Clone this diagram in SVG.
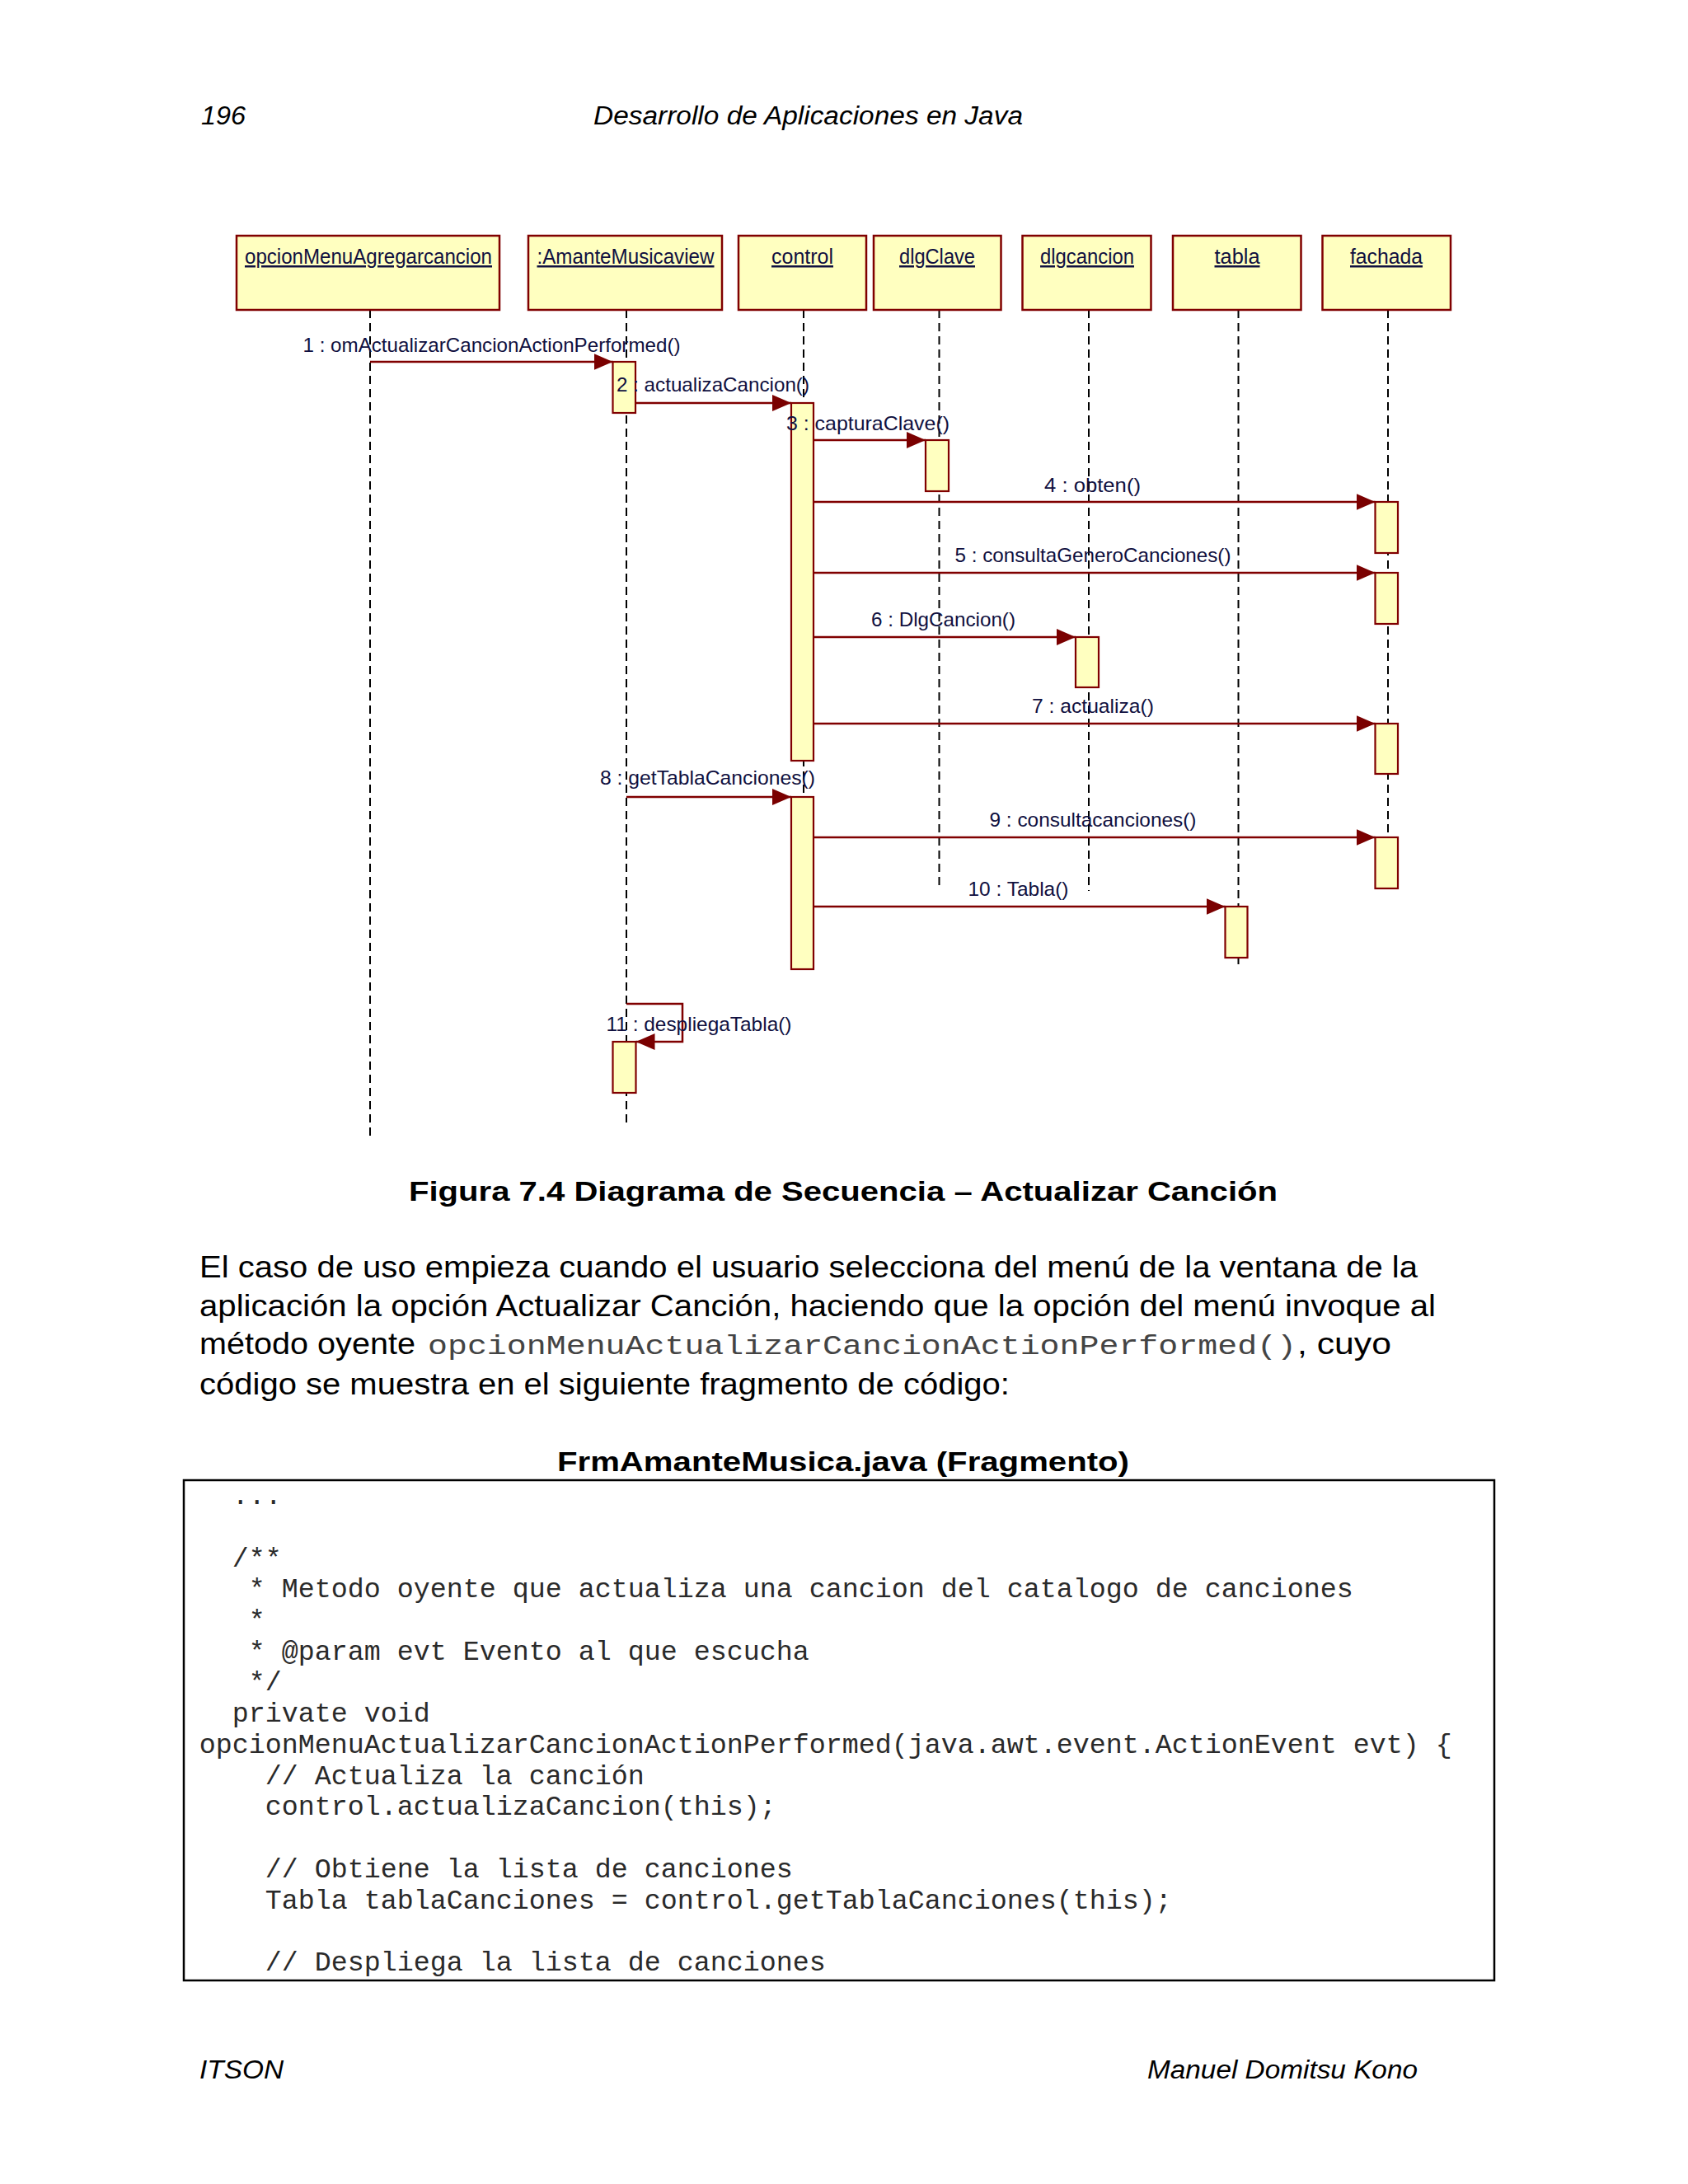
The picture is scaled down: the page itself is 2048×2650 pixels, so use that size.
<svg xmlns="http://www.w3.org/2000/svg" width="2048" height="2650" viewBox="0 0 2048 2650">
<defs>
<marker id="ah" markerUnits="userSpaceOnUse" markerWidth="25" markerHeight="21" refX="23" refY="10" orient="auto">
<path d="M0,0 L23,10 L0,20 z" fill="#7a0000"/>
</marker>
<style>
.page{font-family:"Liberation Sans",Arial,sans-serif;fill:#000}
.hdr{font-size:31px;font-style:italic}
.cap{font-size:34px;font-weight:bold}
.para{font-size:36px}
.pmono{font-family:"Liberation Mono","Courier New",monospace;font-size:34px;fill:#444}
.code{font-family:"Liberation Mono","Courier New",monospace;font-size:33.33px;fill:#2a2a2a}
.obj rect{fill:#FFFFC0;stroke:#800000;stroke-width:2.5}
.obj text{font-family:"Liberation Sans",Arial,sans-serif;font-size:25px;fill:#101040;text-anchor:middle;text-decoration:underline}
.life{stroke:#000;stroke-width:2;stroke-dasharray:10,6;fill:none}
.act{fill:#FFFFC0;stroke:#800000;stroke-width:2.2}
.msg{stroke:#800000;stroke-width:2.5;fill:none;marker-end:url(#ah)}
.lbl{font-family:"Liberation Sans",Arial,sans-serif;font-size:24px;fill:#101040}
</style>
</defs>
<rect x="0" y="0" width="2048" height="2650" fill="#fff"/>

<g id="page-header" class="page">
<text class="hdr" x="244" y="151" textLength="54" lengthAdjust="spacingAndGlyphs">196</text>
<text class="hdr" x="720" y="151" textLength="521" lengthAdjust="spacingAndGlyphs">Desarrollo de Aplicaciones en Java</text>
</g>

<g id="lifelines">
<line class="life" x1="449" y1="376" x2="449" y2="1378"/>
<line class="life" x1="760" y1="376" x2="760" y2="1366"/>
<line class="life" x1="975" y1="376" x2="975" y2="1175"/>
<line class="life" x1="1139.5" y1="376" x2="1139.5" y2="1079"/>
<line class="life" x1="1321" y1="376" x2="1321" y2="1081"/>
<line class="life" x1="1502.5" y1="376" x2="1502.5" y2="1174"/>
<line class="life" x1="1684" y1="376" x2="1684" y2="1078"/>
</g>

<g id="node-opcionMenuAgregarcancion" class="obj">
<rect x="287" y="286" width="319" height="90"/>
<text x="447" y="320" textLength="300" lengthAdjust="spacingAndGlyphs">opcionMenuAgregarcancion</text>
</g>
<g id="node-AmanteMusicaview" class="obj">
<rect x="641" y="286" width="235" height="90"/>
<text x="759" y="320" textLength="215" lengthAdjust="spacingAndGlyphs">:AmanteMusicaview</text>
</g>
<g id="node-control" class="obj">
<rect x="896" y="286" width="155" height="90"/>
<text x="973.5" y="320" textLength="75" lengthAdjust="spacingAndGlyphs">control</text>
</g>
<g id="node-dlgClave" class="obj">
<rect x="1060" y="286" width="154.5" height="90"/>
<text x="1137" y="320" textLength="92" lengthAdjust="spacingAndGlyphs">dlgClave</text>
</g>
<g id="node-dlgcancion" class="obj">
<rect x="1240.5" y="286" width="156" height="90"/>
<text x="1319" y="320" textLength="114" lengthAdjust="spacingAndGlyphs">dlgcancion</text>
</g>
<g id="node-tabla" class="obj">
<rect x="1423" y="286" width="155.5" height="90"/>
<text x="1501" y="320" textLength="55" lengthAdjust="spacingAndGlyphs">tabla</text>
</g>
<g id="node-fachada" class="obj">
<rect x="1604.5" y="286" width="155.5" height="90"/>
<text x="1682" y="320" textLength="88" lengthAdjust="spacingAndGlyphs">fachada</text>
</g>

<g id="activations">
<rect class="act" x="743.5" y="439" width="27.5" height="62"/>
<rect class="act" x="960" y="489" width="27" height="434"/>
<rect class="act" x="1123" y="534" width="28" height="62"/>
<rect class="act" x="1668.5" y="609" width="27.5" height="62"/>
<rect class="act" x="1668.5" y="695" width="27.5" height="62"/>
<rect class="act" x="1305" y="773" width="28" height="61"/>
<rect class="act" x="1668.5" y="878" width="27.5" height="61"/>
<rect class="act" x="960" y="967" width="27" height="209"/>
<rect class="act" x="1668.5" y="1016" width="27.5" height="62"/>
<rect class="act" x="1486.5" y="1100" width="27" height="62"/>
<rect class="act" x="743.5" y="1264" width="28" height="62"/>
</g>

<g id="connectors">
<line class="msg" x1="449" y1="439" x2="743.5" y2="439"/>
<line class="msg" x1="771" y1="489" x2="960" y2="489"/>
<line class="msg" x1="987" y1="534" x2="1123" y2="534"/>
<line class="msg" x1="987" y1="609" x2="1668.5" y2="609"/>
<line class="msg" x1="987" y1="695" x2="1668.5" y2="695"/>
<line class="msg" x1="987" y1="773" x2="1305" y2="773"/>
<line class="msg" x1="987" y1="878" x2="1668.5" y2="878"/>
<line class="msg" x1="760" y1="967" x2="960" y2="967"/>
<line class="msg" x1="987" y1="1016" x2="1668.5" y2="1016"/>
<line class="msg" x1="987" y1="1100" x2="1486.5" y2="1100"/>
<path class="msg" d="M760,1218 H828 V1264 H771.5"/>
<text class="lbl" x="367.5" y="427" textLength="458" lengthAdjust="spacingAndGlyphs">1 : omActualizarCancionActionPerformed()</text>
<text class="lbl" x="748" y="475" textLength="234" lengthAdjust="spacingAndGlyphs">2 : actualizaCancion()</text>
<text class="lbl" x="954" y="522" textLength="198" lengthAdjust="spacingAndGlyphs">3 : capturaClave()</text>
<text class="lbl" x="1267" y="597" textLength="117" lengthAdjust="spacingAndGlyphs">4 : obten()</text>
<text class="lbl" x="1158.5" y="682" textLength="335" lengthAdjust="spacingAndGlyphs">5 : consultaGeneroCanciones()</text>
<text class="lbl" x="1057" y="760" textLength="175" lengthAdjust="spacingAndGlyphs">6 : DlgCancion()</text>
<text class="lbl" x="1252" y="865" textLength="148" lengthAdjust="spacingAndGlyphs">7 : actualiza()</text>
<text class="lbl" x="728" y="952" textLength="261" lengthAdjust="spacingAndGlyphs">8 : getTablaCanciones()</text>
<text class="lbl" x="1200.5" y="1003" textLength="251" lengthAdjust="spacingAndGlyphs">9 : consultacanciones()</text>
<text class="lbl" x="1174.5" y="1087" textLength="122" lengthAdjust="spacingAndGlyphs">10 : Tabla()</text>
<text class="lbl" x="735.5" y="1251" textLength="225" lengthAdjust="spacingAndGlyphs">11 : despliegaTabla()</text>
</g>

<g id="caption" class="page">
<text class="cap" x="496" y="1457" textLength="1054" lengthAdjust="spacingAndGlyphs">Figura 7.4 Diagrama de Secuencia – Actualizar Canción</text>
</g>

<g id="paragraph" class="page">
<text class="para" x="242" y="1550" textLength="1478" lengthAdjust="spacingAndGlyphs">El caso de uso empieza cuando el usuario selecciona del menú de la ventana de la</text>
<text class="para" x="242" y="1597" textLength="1500" lengthAdjust="spacingAndGlyphs">aplicación la opción Actualizar Canción, haciendo que la opción del menú invoque al</text>
<text class="para" x="242" y="1643" textLength="262" lengthAdjust="spacingAndGlyphs">método oyente</text>
<text class="pmono" x="519" y="1643" textLength="1054" lengthAdjust="spacingAndGlyphs">opcionMenuActualizarCancionActionPerformed()</text>
<text class="para" x="1574" y="1643" textLength="114" lengthAdjust="spacingAndGlyphs">, cuyo</text>
<text class="para" x="242" y="1692" textLength="983" lengthAdjust="spacingAndGlyphs">código se muestra en el siguiente fragmento de código:</text>
</g>

<g id="code-fragment" class="page">
<text class="cap" x="676" y="1785" textLength="694" lengthAdjust="spacingAndGlyphs">FrmAmanteMusica.java (Fragmento)</text>
<rect x="223" y="1796" width="1590" height="607" fill="none" stroke="#000" stroke-width="2.5"/>
<text class="code" x="281.8" y="1825">...</text>
<text class="code" x="281.8" y="1900.5">/**</text>
<text class="code" x="301.8" y="1938">* Metodo oyente que actualiza una cancion del catalogo de canciones</text>
<text class="code" x="301.8" y="1976">*</text>
<text class="code" x="301.8" y="2013.5">* @param evt Evento al que escucha</text>
<text class="code" x="301.8" y="2051">*/</text>
<text class="code" x="281.8" y="2089">private void</text>
<text class="code" x="241.8" y="2127">opcionMenuActualizarCancionActionPerformed(java.awt.event.ActionEvent evt) {</text>
<text class="code" x="321.8" y="2164.5">// Actualiza la canción</text>
<text class="code" x="321.8" y="2202">control.actualizaCancion(this);</text>
<text class="code" x="321.8" y="2278">// Obtiene la lista de canciones</text>
<text class="code" x="321.8" y="2315.5">Tabla tablaCanciones = control.getTablaCanciones(this);</text>
<text class="code" x="321.8" y="2391">// Despliega la lista de canciones</text>
</g>

<g id="page-footer" class="page">
<text class="hdr" x="242" y="2522" textLength="102" lengthAdjust="spacingAndGlyphs">ITSON</text>
<text class="hdr" x="1392" y="2522" textLength="328" lengthAdjust="spacingAndGlyphs">Manuel Domitsu Kono</text>
</g>
</svg>
